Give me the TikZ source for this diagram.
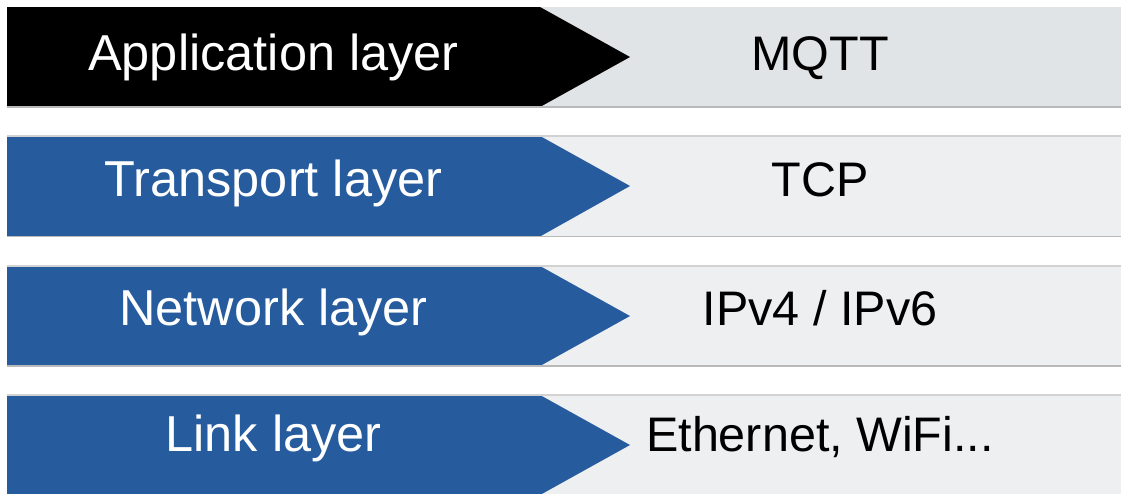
\documentclass[tikz,border=0pt]{standalone}
\usepackage{fontspec}
\setmainfont{Liberation Sans}
\usepackage{xcolor}
\usepackage{tikz}
\usetikzlibrary{positioning}
\definecolor{layerblue}{HTML}{265B9E}
\definecolor{protodark}{HTML}{E1E4E6}
\definecolor{protolight}{HTML}{EEEFF1}
\definecolor{edge}{HTML}{B9B9B9}
\definecolor{edgesoft}{HTML}{D2D2D2}

\begin{document}
\begin{tikzpicture}[x=1pt,y=-1pt,
  lbl/.style={inner sep=0pt,text height=0.75em,text depth=0.25em},
  layer/.style={lbl,text=white,font=\fontsize{50.5}{52}\selectfont},
  proto/.style={lbl,text=black,font=\fontsize{48.5}{50}\selectfont},
  bottomrule/.style={draw=edge,line width=1.5pt},
  toprule/.style={draw=edgesoft,line width=1.2pt}
]
\useasboundingbox[fill=white] (0,0) rectangle (1121,493);
% application
\fill[protodark] (540,7) rectangle (1121,107);
\fill[black] (7,7) -- (540,7) -- (630,57) -- (540,107) -- (7,107) -- cycle;
\draw[bottomrule] (7,107) -- (1121,107);
\node[layer] (app) at (273.5,68) {Application layer};
\node[proto] (mqtt) at (820,68) {MQTT};
% transport
\fill[protolight] (540,136) rectangle (1121,236.5);
\fill[layerblue] (7,136) -- (540,136) -- (630,186) -- (540,236.5) -- (7,236.5) -- cycle;
\draw[toprule] (7,136) -- (1121,136);
\draw[bottomrule] (7,236.5) -- (1121,236.5);
\node[layer] (trans) at (273.5,194) {Transport layer};
\node[proto] (tcp) at (820,194) {TCP};
% network
\fill[protolight] (540,266) rectangle (1121,366);
\fill[layerblue] (7,266) -- (540,266) -- (630,316) -- (540,366) -- (7,366) -- cycle;
\draw[toprule] (7,266) -- (1121,266);
\draw[bottomrule] (7,366) -- (1121,366);
\node[layer] (net) at (273.5,323) {Network layer};
\node[proto] (ip) at (820,323) {IPv4 / IPv6};
% link
\fill[protolight] (540,395) rectangle (1121,495);
\fill[layerblue] (7,395) -- (540,395) -- (630,445) -- (540,495) -- (7,495) -- cycle;
\draw[toprule] (7,395) -- (1121,395);
\node[layer] (link) at (273.5,449) {Link layer};
\node[proto] (eth) at (820,449) {Ethernet, WiFi...};
\end{tikzpicture}
\end{document}
